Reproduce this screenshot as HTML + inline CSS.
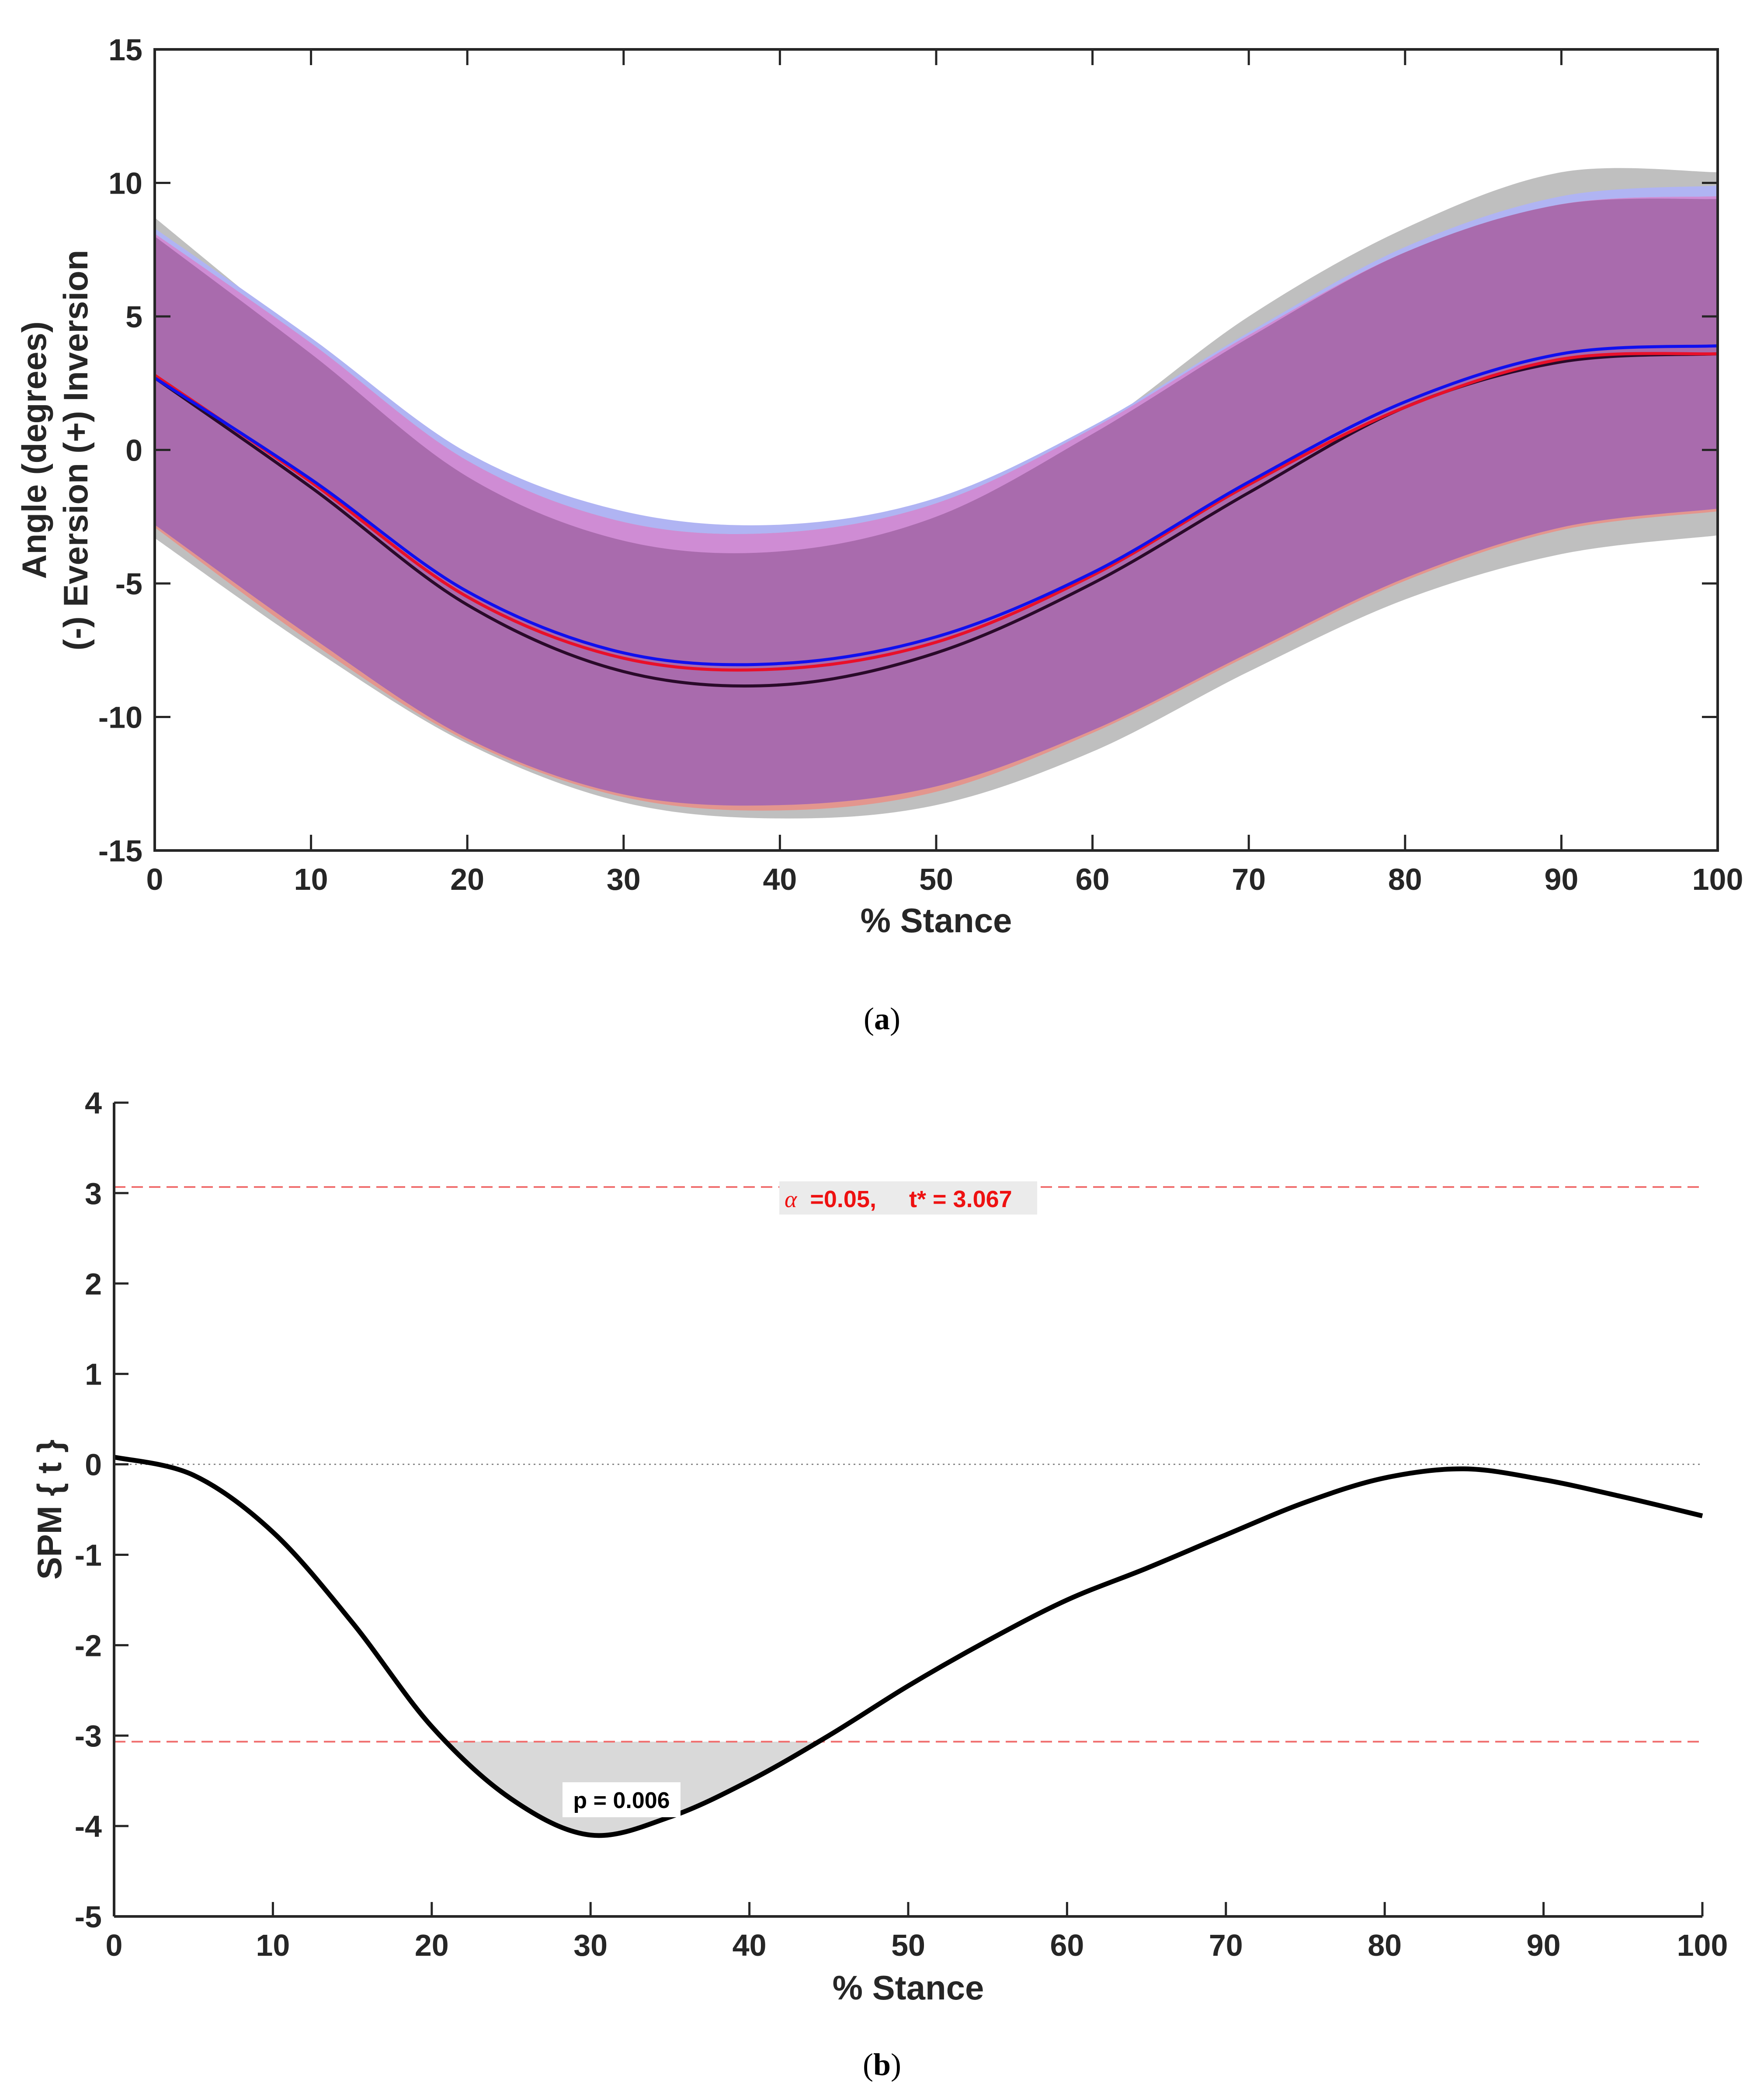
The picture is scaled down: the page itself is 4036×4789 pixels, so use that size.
<!DOCTYPE html>
<html><head><meta charset="utf-8"><style>
html,body{margin:0;padding:0;background:#fff;}
svg{display:block;font-family:"Liberation Sans",Arial,sans-serif;}
</style></head><body>
<svg id="fig" width="4036" height="4789" viewBox="0 0 4036 4789" xmlns="http://www.w3.org/2000/svg"></svg>
<script>
// ---- Chart (a) data ----
const pctA = [0,10,20,30,40,50,60,70,80,90,100];
const grayUpper = [8.7,3.9,-0.8,-3.5,-4.0,-2.5,0.7,5.0,8.3,10.4,10.4];
const grayLower = [-3.3,-7.4,-11.0,-13.2,-13.8,-13.3,-11.3,-8.3,-5.6,-3.9,-3.2];
const blueUpper = [8.3,4.2,-0.1,-2.3,-2.8,-1.8,0.9,4.4,7.6,9.5,9.9];
const blueLower = [-2.6,-7.0,-10.8,-12.9,-13.3,-12.6,-10.5,-7.6,-4.8,-2.9,-2.1];
const pinkUpper = [8.1,4.0,-0.4,-2.7,-3.1,-2.0,0.8,4.3,7.4,9.2,9.5];
const pinkLower = [-2.9,-7.2,-10.9,-13.0,-13.5,-12.8,-10.6,-7.7,-4.9,-3.0,-2.3];
const purpUpper = [8.0,3.6,-1.0,-3.4,-3.8,-2.5,0.6,4.2,7.4,9.2,9.4];
const purpLower = [-2.8,-7.0,-10.8,-12.9,-13.3,-12.6,-10.5,-7.6,-4.8,-2.9,-2.2];
const meanBlack = [2.7,-1.4,-5.8,-8.3,-8.8,-7.6,-5.0,-1.6,1.6,3.3,3.6];
const meanRed = [2.8,-1.2,-5.5,-7.8,-8.2,-7.2,-4.7,-1.3,1.6,3.4,3.6];
const meanBlue = [2.7,-1.1,-5.3,-7.6,-8.0,-7.0,-4.6,-1.2,1.8,3.6,3.9];
const yTicksA = [15,10,5,0,-5,-10,-15];
const xTicks = [0,10,20,30,40,50,60,70,80,90,100];
// ---- Chart (b) data ----
const pctB = [0,5,10,15,20,25,30,35,40,45,50,55,60,65,70,75,80,85,90,95,100];
const spmT = [0.08,-0.12,-0.75,-1.75,-2.9,-3.7,-4.1,-3.9,-3.5,-3.0,-2.45,-1.95,-1.5,-1.15,-0.78,-0.42,-0.15,-0.05,-0.17,-0.36,-0.57];
const threshold = [3.067];
const yTicksB = [4,3,2,1,0,-1,-2,-3,-4,-5];

const svg = document.getElementById('fig');
const NS = 'http://www.w3.org/2000/svg';
function mk(tag, attrs, parent){const e=document.createElementNS(NS,tag);for(const k in attrs)e.setAttribute(k,attrs[k]);(parent||svg).appendChild(e);return e;}
function spline(pts){let d='M'+pts[0][0]+','+pts[0][1];for(let i=0;i<pts.length-1;i++){const p0=pts[Math.max(0,i-1)],p1=pts[i],p2=pts[i+1],p3=pts[Math.min(pts.length-1,i+2)];d+=' C'+(p1[0]+(p2[0]-p0[0])/6)+','+(p1[1]+(p2[1]-p0[1])/6)+' '+(p2[0]-(p3[0]-p1[0])/6)+','+(p2[1]-(p3[1]-p1[1])/6)+' '+p2[0]+','+p2[1];}return d;}
function splineRev(pts){const r=pts.slice().reverse();return spline(r).replace(/^M/,'L');}

// ===== Chart A =====
const A={l:354,r:3930,t:113,b:1946};
const xa=v=>A.l+(v/100)*(A.r-A.l), ya=v=>A.t+(15-v)/30*(A.b-A.t);
function band(up,lo,fill,name){const pu=pctA.map((p,i)=>[xa(p),ya(up[i])]),pl=pctA.map((p,i)=>[xa(p),ya(lo[i])]);
 const e=mk('path',{d:spline(pu)+' '+splineRev(pl)+' Z',fill:fill});
 
 }
band(grayUpper,grayLower,'#bfbfbf','band-gray');
band(blueUpper,blueLower,'#b0b4f3','band-blue');
band(pinkUpper,pinkLower,'#e3968e','band-red-lower');
band(pinkUpper,purpLower,'#cf8cd4','band-pink');
band(purpUpper,purpLower,'#a96bad','band-overlap');
function line(arr,color,name){const pts=pctA.map((p,i)=>[xa(p),ya(arr[i])]);
 const e=mk('path',{d:spline(pts),fill:'none',stroke:color,'stroke-width':7});
 
 }
line(meanBlack,'#2a0a2a','mean-line-black');
line(meanRed,'#e8102a','mean-line-red');
line(meanBlue,'#1010ee','mean-line-blue');
mk('rect',{x:A.l,y:A.t,width:A.r-A.l,height:A.b-A.t,fill:'none',stroke:'#262626','stroke-width':6,});
yTicksA.forEach(v=>{const y=ya(v);
 mk('line',{x1:A.l,x2:A.l+36,y1:y,y2:y,stroke:'#262626','stroke-width':5});
 mk('line',{x1:A.r,x2:A.r-36,y1:y,y2:y,stroke:'#262626','stroke-width':5});
 const t=mk('text',{x:A.l-28,y:y+25,'text-anchor':'end','font-size':70,'font-weight':'bold',fill:'#262626'});t.textContent=v;
 
 });
xTicks.forEach(v=>{const x=xa(v);
 mk('line',{x1:x,x2:x,y1:A.b,y2:A.b-36,stroke:'#262626','stroke-width':5});
 mk('line',{x1:x,x2:x,y1:A.t,y2:A.t+36,stroke:'#262626','stroke-width':5});
 const t=mk('text',{x:x,y:A.b+90,'text-anchor':'middle','font-size':70,'font-weight':'bold',fill:'#262626'});t.textContent=v;
 
 });
let t1=mk('text',{x:2142,y:2133,'text-anchor':'middle','font-size':78,'font-weight':'bold',fill:'#262626',});t1.textContent='% Stance';
let t2=mk('text',{x:0,y:0,transform:'translate(105,1030) rotate(-90)','text-anchor':'middle','font-size':78,'font-weight':'bold',fill:'#262626',});t2.textContent='Angle (degrees)';
let t3=mk('text',{x:0,y:0,transform:'translate(200,1030) rotate(-90)','text-anchor':'middle','font-size':78,'font-weight':'bold',fill:'#262626',});t3.textContent='(-) Eversion (+) Inversion';
let c1=mk('text',{x:2018,y:2355,'text-anchor':'middle','font-size':72,'font-family':'Liberation Serif, serif',fill:'#000',});c1.innerHTML='(<tspan font-weight="bold">a</tspan>)';

// ===== Chart B =====
const B={l:261,r:3895,t:2523,b:4385};
const xb=v=>B.l+(v/100)*(B.r-B.l), yb=v=>B.t+(4-v)/9*(B.b-B.t);
const spts=pctB.map((p,i)=>[xb(p),yb(spmT[i])]);
(function(){const th=-threshold[0];const fine=[];
 for(let x=0;x<=100;x+=0.25){let i=Math.min(Math.floor(x/5),pctB.length-2);const f=(x-pctB[i])/5;
  const p0=spmT[Math.max(0,i-1)],p1=spmT[i],p2=spmT[i+1],p3=spmT[Math.min(spmT.length-1,i+2)];
  const v=0.5*((2*p1)+(-p0+p2)*f+(2*p0-5*p1+4*p2-p3)*f*f+(-p0+3*p1-3*p2+p3)*f*f*f);fine.push([x,v]);}
 const inside=fine.filter(q=>q[1]<th);if(!inside.length)return;
 let d='M'+xb(inside[0][0])+','+yb(th);inside.forEach(q=>d+=' L'+xb(q[0])+','+yb(q[1]));d+=' L'+xb(inside[inside.length-1][0])+','+yb(th)+' Z';
 const e=mk('path',{d:d,fill:'#d9d9d9'});
 
 })();
mk('line',{x1:B.l,x2:B.r,y1:yb(0),y2:yb(0),stroke:'#888','stroke-width':3,'stroke-dasharray':'4 8',});
[threshold[0],-threshold[0]].forEach(v=>{const e=mk('line',{x1:B.l,x2:B.r,y1:yb(v),y2:yb(v),stroke:'#f07070','stroke-width':4,'stroke-dasharray':'26 14'});
 
 });
const sp=mk('path',{d:spline(spts),fill:'none',stroke:'#000','stroke-width':11});


mk('line',{x1:B.l,x2:B.l,y1:B.t,y2:B.b,stroke:'#262626','stroke-width':6});
mk('line',{x1:B.l,x2:B.r,y1:B.b,y2:B.b,stroke:'#262626','stroke-width':6,});
yTicksB.forEach(v=>{const y=yb(v);
 mk('line',{x1:B.l,x2:B.l+33,y1:y,y2:y,stroke:'#262626','stroke-width':5});
 const t=mk('text',{x:B.l-28,y:y+25,'text-anchor':'end','font-size':70,'font-weight':'bold',fill:'#262626'});t.textContent=v;
 
 });
xTicks.forEach(v=>{const x=xb(v);
 mk('line',{x1:x,x2:x,y1:B.b,y2:B.b-33,stroke:'#262626','stroke-width':5});
 const t=mk('text',{x:x,y:B.b+90,'text-anchor':'middle','font-size':70,'font-weight':'bold',fill:'#262626'});t.textContent=v;
 
 });
mk('rect',{x:1783,y:2703,width:590,height:76,fill:'#ebebeb',});
let ta=mk('text',{x:1795,y:2762,'font-size':54,'font-weight':'bold',fill:'#ee1111',});
ta.innerHTML='<tspan font-family="Liberation Serif, serif" font-style="italic" font-weight="normal">α</tspan>  =0.05,     t* = 3.067';
ta.setAttribute('xml:space','preserve');ta.style.whiteSpace='pre';
mk('rect',{x:1287,y:4078,width:270,height:80,fill:'#fff',});
let tp=mk('text',{x:1422,y:4137,'text-anchor':'middle','font-size':52,'font-weight':'bold',fill:'#000',});tp.textContent='p = 0.006';
let t4=mk('text',{x:2078,y:4575,'text-anchor':'middle','font-size':78,'font-weight':'bold',fill:'#262626',});t4.textContent='% Stance';
let t5=mk('text',{x:0,y:0,transform:'translate(140,3454) rotate(-90)','text-anchor':'middle','font-size':78,'font-weight':'bold',fill:'#262626',});t5.textContent='SPM { t }';
let c2=mk('text',{x:2018,y:4748,'text-anchor':'middle','font-size':72,'font-family':'Liberation Serif, serif',fill:'#000',});c2.innerHTML='(<tspan font-weight="bold">b</tspan>)';
</script>
</body></html>
